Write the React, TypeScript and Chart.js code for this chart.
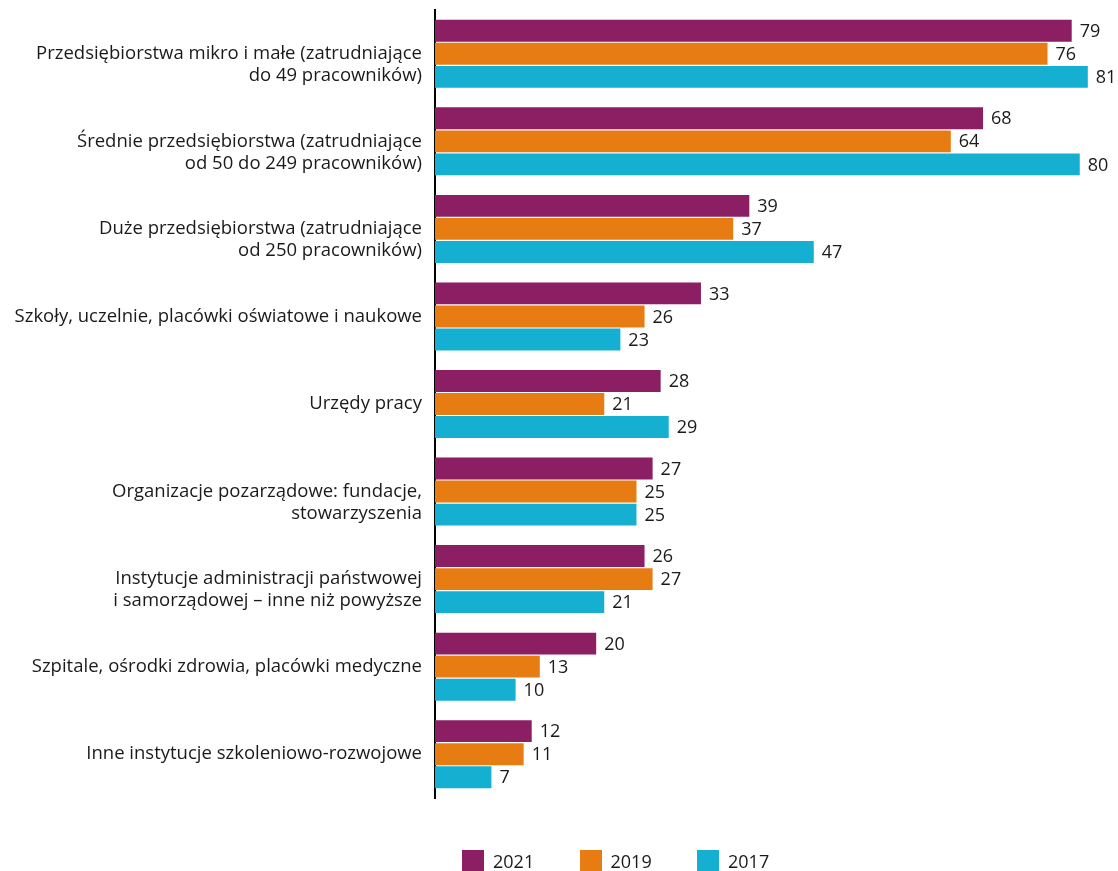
import React, { useEffect, useRef } from "react";
import { Chart, registerables } from "chart.js";

Chart.register(...registerables);

const categories: string[][] = [
  ["Przedsiębiorstwa mikro i małe (zatrudniające", "do 49 pracowników)"],
  ["Średnie przedsiębiorstwa (zatrudniające", "od 50 do 249 pracowników)"],
  ["Duże przedsiębiorstwa (zatrudniające", "od 250 pracowników)"],
  ["Szkoły, uczelnie, placówki oświatowe i naukowe"],
  ["Urzędy pracy"],
  ["Organizacje pozarządowe: fundacje,", "stowarzyszenia"],
  ["Instytucje administracji państwowej", "i samorządowej – inne niż powyższe"],
  ["Szpitale, ośrodki zdrowia, placówki medyczne"],
  ["Inne instytucje szkoleniowo-rozwojowe"],
];

const seriesNames = ["2021", "2019", "2017"];
const values2021 = [79, 68, 39, 33, 28, 27, 26, 20, 12];
const values2019 = [76, 64, 37, 26, 21, 25, 27, 13, 11];
const values2017 = [81, 80, 47, 23, 29, 25, 21, 10, 7];
const colors = ["#8C1F63", "#E67C12", "#15B0D1"];

const FONT = "'Open Sans', Lato, sans-serif";
const LABEL_SIZE = 18.5;
const VALUE_SIZE = 18;

const valueLabels = {
  id: "valueLabels",
  afterDatasetsDraw(chart: any) {
    const ctx = chart.ctx;
    ctx.save();
    ctx.font = `${VALUE_SIZE}px ${FONT}`;
    ctx.fillStyle = "#1a1a1a";
    ctx.textAlign = "left";
    ctx.textBaseline = "middle";
    chart.data.datasets.forEach((ds: any, di: number) => {
      const meta = chart.getDatasetMeta(di);
      meta.data.forEach((el: any, i: number) => {
        ctx.fillText(String(ds.data[i]), el.x + 8, el.y + 1);
      });
    });
    ctx.restore();
  },
};

export default function App() {
  const ref = useRef<HTMLCanvasElement | null>(null);

  useEffect(() => {
    if (!ref.current) return;
    const chart = new Chart(ref.current, {
      type: "bar",
      data: {
        labels: categories.map((c) => c.join(" ")),
        datasets: [values2021, values2019, values2017].map((d, i) => ({
          label: seriesNames[i],
          data: d,
          backgroundColor: colors[i],
          borderWidth: 0,
          categoryPercentage: 0.79,
          barPercentage: 0.95,
        })),
      },
      options: {
        indexAxis: "y",
        animation: false,
        responsive: false,
        layout: { padding: { left: 0, right: 6, top: 10, bottom: 73 } },
        plugins: {
          legend: { display: false },
          tooltip: { enabled: false },
        },
        scales: {
          x: {
            display: false,
            min: 0,
            max: 84,
          },
          y: {
            grid: { display: false, drawTicks: false },
            border: { display: true, color: "#000000", width: 2 },
            afterFit: (scale: any) => {
              scale.width = 435;
              scale.paddingTop = 0;
              scale.paddingBottom = 0;
            },
            ticks: {
              padding: 13,
              color: "#1a1a1a",
              font: { family: FONT, size: LABEL_SIZE, lineHeight: 1.19 },
              autoSkip: false,
              callback: (_v: any, i: number) => {
                const lines = categories[i];
                return lines.length > 1 ? ["", ...lines] : lines[0];
              },
            },
          },
        },
      },
      plugins: [valueLabels],
    });
    return () => chart.destroy();
  }, []);

  return (
    <div style={{ position: "fixed", left: 0, top: 0, width: 1118, height: 871, background: "#fff" }}>
      <canvas ref={ref} width={1118} height={871} />
      <div
        style={{
          position: "absolute",
          left: 462,
          top: 850,
          display: "flex",
          fontFamily: FONT,
          fontSize: VALUE_SIZE,
          color: "#1a1a1a",
        }}
      >
        {seriesNames.map((n, i) => (
          <div key={n} style={{ display: "flex", alignItems: "center", width: 117.5 }}>
            <span style={{ display: "inline-block", width: 22, height: 22, background: colors[i], marginRight: 9 }} />
            <span style={{ lineHeight: "22px" }}>{n}</span>
          </div>
        ))}
      </div>
    </div>
  );
}
